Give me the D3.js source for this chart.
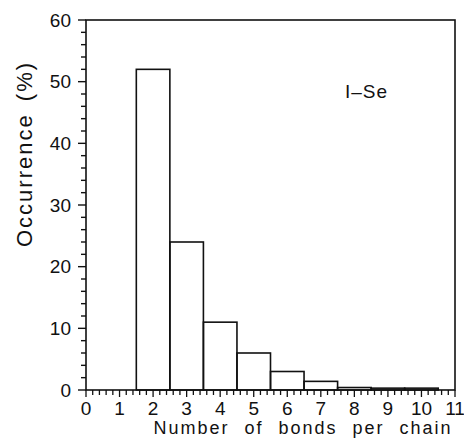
<!DOCTYPE html>
<html>
<head>
<script src="https://d3js.org/d3.v7.min.js"></script>
<meta charset="utf-8">
<style>
body { margin: 0; background: white; }
text { font-family: "Liberation Sans", Helvetica, sans-serif; fill: #111; }
</style>
</head>
<body>
<div class="chart"></div>
<script>
// bonds per chain and occurrence (%)
var bonds = [2, 3, 4, 5, 6, 7, 8, 9, 10];
var occurrence = [52, 24, 11, 6, 3, 1.4, 0.4, 0.3, 0.3];
var xTicks = [0, 1, 2, 3, 4, 5, 6, 7, 8, 9, 10, 11];
var yTicks = [0, 10, 20, 30, 40, 50, 60];

var width = 464, height = 441;
var mLeft = 86, mRight = 455, mTop = 20, mBottom = 390;

var svg = d3.select(".chart").append("svg")
  .attr("width", width)
  .attr("height", height);

var x = d3.scaleLinear().domain([0, 11]).range([mLeft, mRight]);
var y = d3.scaleLinear().domain([0, 60]).range([mBottom, mTop]);

// bars
svg.selectAll("rect.bar")
  .data(bonds)
  .enter().append("rect")
  .attr("class", "bar")
  .attr("x", function(d) { return x(d - 0.5); })
  .attr("width", function(d) { return x(d + 0.5) - x(d - 0.5); })
  .attr("y", function(d, i) { return y(occurrence[i]); })
  .attr("height", function(d, i) { return mBottom - y(occurrence[i]); })
  .attr("fill", "none")
  .attr("stroke", "#111")
  .attr("stroke-width", 1.6);

// frame
svg.append("rect")
  .attr("x", mLeft).attr("y", mTop)
  .attr("width", mRight - mLeft).attr("height", mBottom - mTop)
  .attr("fill", "none")
  .attr("stroke", "#111")
  .attr("stroke-width", 1.6);

// minor ticks
var yMinor = d3.range(0, 60.01, 2);
svg.selectAll("line.ym").data(yMinor).enter().append("line")
  .attr("x1", function(d) { return d % 10 == 0 ? mLeft - 8 : mLeft - 5; })
  .attr("x2", mLeft)
  .attr("y1", function(d) { return y(d); })
  .attr("y2", function(d) { return y(d); })
  .attr("stroke", "#111").attr("stroke-width", 1.4);

var xMinor = d3.range(0, 55.5, 1).map(function(i) { return i / 5; });
svg.selectAll("line.xm").data(xMinor).enter().append("line")
  .attr("x1", function(d) { return x(d); })
  .attr("x2", function(d) { return x(d); })
  .attr("y1", mBottom)
  .attr("y2", function(d, i) { return i % 5 == 0 ? mBottom + 7 : mBottom + 5; })
  .attr("stroke", "#111").attr("stroke-width", 1.3);

// tick labels
svg.selectAll("text.yl").data(yTicks).enter().append("text")
  .attr("x", mLeft - 15)
  .attr("y", function(d) { return y(d); })
  .attr("dy", "0.35em")
  .attr("text-anchor", "end")
  .style("font-size", "19px")
  .text(function(d) { return d; });

svg.selectAll("text.xl").data(xTicks).enter().append("text")
  .attr("x", function(d) { return x(d); })
  .attr("y", 415)
  .attr("text-anchor", "middle")
  .style("font-size", "19px")
  .text(function(d) { return d; });

// axis titles
svg.append("text")
  .attr("transform", "translate(32,154) rotate(-90)")
  .attr("text-anchor", "middle")
  .style("font-size", "22px")
  .style("letter-spacing", "2px")
  .style("word-spacing", "4px")
  .text("Occurrence (%)");

svg.append("text")
  .attr("x", 303).attr("y", 434)
  .attr("text-anchor", "middle")
  .style("font-size", "18px")
  .style("letter-spacing", "2px")
  .style("word-spacing", "8px")
  .text("Number of bonds per chain");

svg.append("text")
  .attr("x", 345).attr("y", 98)
  .style("font-size", "19px")
  .style("letter-spacing", "1px")
  .text("I\u2013Se");
</script>
</body>
</html>
